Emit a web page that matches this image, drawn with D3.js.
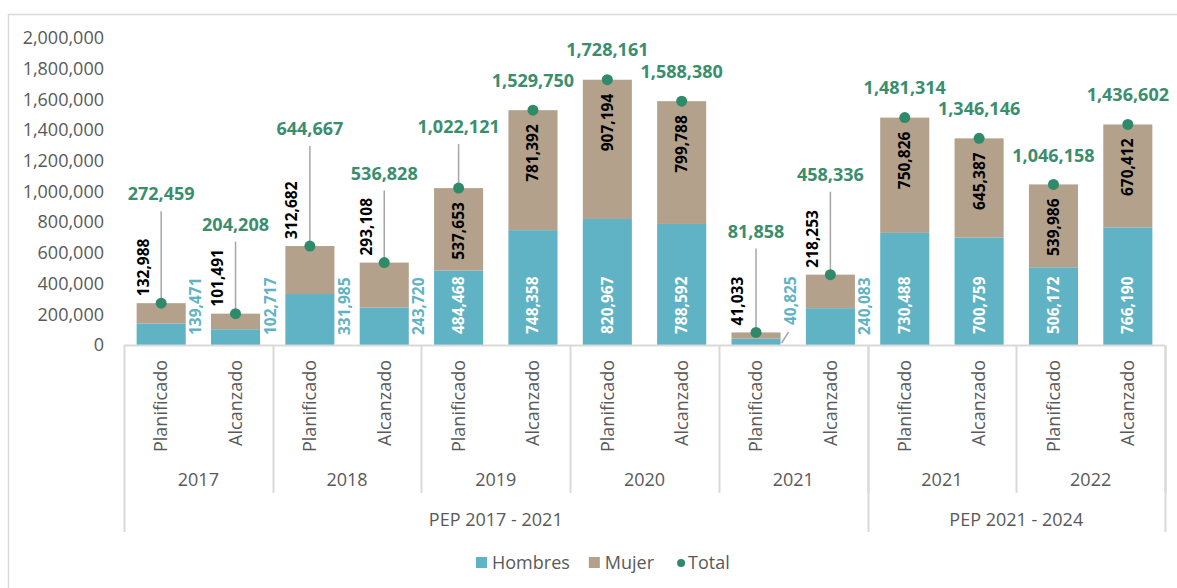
<!DOCTYPE html>
<html>
<head>
<meta charset="utf-8">
<script src="https://cdn.jsdelivr.net/npm/d3@7"></script>
<style>
  body { margin: 0; background: #fff; }
  svg { display: block; font-family: "Open Sans", sans-serif; }
</style>
</head>
<body>
<svg id="viz"></svg>
<script>
// ----------------------------------------------------------------------------------------------------------------
// DATA

var periods = ["PEP 2017 - 2021", "PEP 2017 - 2021", "PEP 2017 - 2021", "PEP 2017 - 2021", "PEP 2017 - 2021",
  "PEP 2017 - 2021", "PEP 2017 - 2021", "PEP 2017 - 2021", "PEP 2017 - 2021", "PEP 2017 - 2021",
  "PEP 2021 - 2024", "PEP 2021 - 2024", "PEP 2021 - 2024", "PEP 2021 - 2024"];

var years = ["2017", "2017", "2018", "2018", "2019", "2019", "2020", "2020", "2021", "2021",
  "2021", "2021", "2022", "2022"];

var stages = ["Planificado", "Alcanzado", "Planificado", "Alcanzado", "Planificado", "Alcanzado", "Planificado",
  "Alcanzado", "Planificado", "Alcanzado", "Planificado", "Alcanzado", "Planificado", "Alcanzado"];

var hombres = [139471, 102717, 331985, 243720, 484468, 748358, 820967, 788592, 40825, 240083,
  730488, 700759, 506172, 766190];

var mujer = [132988, 101491, 312682, 293108, 537653, 781392, 907194, 799788, 41033, 218253,
  750826, 645387, 539986, 670412];

var total = [272459, 204208, 644667, 536828, 1022121, 1529750, 1728161, 1588380, 81858, 458336,
  1481314, 1346146, 1046158, 1436602];

var yTicks = [0, 200000, 400000, 600000, 800000, 1000000, 1200000, 1400000, 1600000, 1800000, 2000000];

var legendNames = ["Hombres", "Mujer", "Total"];

// ----------------------------------------------------------------------------------------------------------------
// LAYOUT (how far each total label sits above its dot, px)

var totalLift = [109, 89, 117, 89, 61, 29, 30, 29, 101, 100, 30, 30, 29, 30];

// ----------------------------------------------------------------------------------------------------------------
// INITIAL SETUP

var w = 1177;
var h = 588;
var viz = d3.select("#viz").attr("width", w).attr("height", h);

var colHombres = "#5fb3c4";
var colMujer = "#b3a18c";
var colTotal = "#2f8a69";
var colTotalText = "#3a8e6e";
var colAxis = "#d9d9d9";
var colText = "#595959";

var fmt = d3.format(",");

// outer chart frame
viz.append("rect")
  .attr("x", 8.5).attr("y", 14.5)
  .attr("width", 1300).attr("height", 700)
  .attr("fill", "none")
  .attr("stroke", colAxis)
  .attr("stroke-width", 1.5);

var x = d3.scaleBand()
  .domain(d3.range(stages.length))
  .range([124, 1165])
  .paddingInner(0.34)
  .paddingOuter(0.17);

var y = d3.scaleLinear()
  .domain([0, 2000000])
  .range([345, 38]);

var step = x.step();
var gap = (step - x.bandwidth()) / 2;

// ----------------------------------------------------------------------------------------------------------------
// Y AXIS (labels only)

var yAxis = viz.append("g")
  .attr("transform", "translate(124,0)")
  .call(d3.axisLeft(y).tickValues(yTicks).tickSize(0).tickPadding(20).tickFormat(fmt));

yAxis.select(".domain").remove();
yAxis.selectAll("text")
  .attr("fill", colText)
  .style("font-size", "18px")
  .style("font-family", "Open Sans");

// ----------------------------------------------------------------------------------------------------------------
// BARS

var cats = d3.range(stages.length);

viz.selectAll("rect.hombres")
  .data(cats)
  .enter()
  .append("rect")
  .attr("class", "hombres")
  .attr("x", function(i) { return x(i); })
  .attr("width", x.bandwidth())
  .attr("y", function(i) { return y(hombres[i]); })
  .attr("height", function(i) { return y(0) - y(hombres[i]); })
  .attr("fill", colHombres);

viz.selectAll("rect.mujer")
  .data(cats)
  .enter()
  .append("rect")
  .attr("class", "mujer")
  .attr("x", function(i) { return x(i); })
  .attr("width", x.bandwidth())
  .attr("y", function(i) { return y(hombres[i] + mujer[i]); })
  .attr("height", function(i) { return y(hombres[i]) - y(hombres[i] + mujer[i]); })
  .attr("fill", colMujer);

// ----------------------------------------------------------------------------------------------------------------
// CATEGORY AXIS

viz.append("line")
  .attr("x1", 124).attr("x2", 1165)
  .attr("y1", 345.5).attr("y2", 345.5)
  .attr("stroke", colAxis)
  .attr("stroke-width", 2);

var xAxis = viz.append("g")
  .attr("transform", "translate(0,345)")
  .call(d3.axisBottom(x).tickSize(0).tickFormat(function(i) { return stages[i]; }));

xAxis.select(".domain").remove();
xAxis.selectAll("text")
  .attr("transform", "rotate(-90)")
  .attr("x", -15)
  .attr("y", 0)
  .attr("dy", "0.35em")
  .attr("text-anchor", "end")
  .attr("fill", colText)
  .style("font-size", "18px")
  .style("font-family", "Open Sans");

// year groups and period groups
function groups(keyFn) {
  var out = [];
  cats.forEach(function(i) {
    var k = keyFn(i);
    if (out.length && out[out.length - 1].key === k) {
      out[out.length - 1].end = i;
    } else {
      out.push({key: k, start: i, end: i, label: null});
    }
  });
  return out;
}

var yearGroups = groups(function(i) { return periods[i] + "|" + years[i]; });
var periodGroups = groups(function(i) { return periods[i]; });

function leftEdge(i) { return x(i) - gap; }
function rightEdge(i) { return x(i) + x.bandwidth() + gap; }

// separators between years
viz.selectAll("line.yearsep")
  .data(yearGroups)
  .enter()
  .append("line")
  .attr("class", "yearsep")
  .attr("x1", function(d) { return Math.round(rightEdge(d.end)) + 0.5; })
  .attr("x2", function(d) { return Math.round(rightEdge(d.end)) + 0.5; })
  .attr("y1", 345).attr("y2", 493)
  .attr("stroke", colAxis)
  .attr("stroke-width", 2);

// separators between periods (plus the far left)
var periodEdges = [leftEdge(0)].concat(periodGroups.map(function(d) { return rightEdge(d.end); }));

viz.selectAll("line.periodsep")
  .data(periodEdges)
  .enter()
  .append("line")
  .attr("class", "periodsep")
  .attr("x1", function(d) { return Math.round(d) + 0.5; })
  .attr("x2", function(d) { return Math.round(d) + 0.5; })
  .attr("y1", 345).attr("y2", 532)
  .attr("stroke", colAxis)
  .attr("stroke-width", 2);

viz.selectAll("text.year")
  .data(yearGroups)
  .enter()
  .append("text")
  .attr("class", "year")
  .attr("x", function(d) { return (leftEdge(d.start) + rightEdge(d.end)) / 2; })
  .attr("y", 486)
  .attr("text-anchor", "middle")
  .attr("fill", colText)
  .style("font-size", "18px")
  .text(function(d) { return years[d.start]; });

viz.selectAll("text.period")
  .data(periodGroups)
  .enter()
  .append("text")
  .attr("class", "period")
  .attr("x", function(d) { return (leftEdge(d.start) + rightEdge(d.end)) / 2; })
  .attr("y", 526)
  .attr("text-anchor", "middle")
  .attr("fill", colText)
  .style("font-size", "18px")
  .text(function(d) { return d.key; });

// ----------------------------------------------------------------------------------------------------------------
// DATA LABELS

var minInside = 65;

// hombres
viz.selectAll("text.lblH")
  .data(cats)
  .enter()
  .append("text")
  .attr("class", "lblH")
  .attr("transform", function(i) {
    var segH = y(0) - y(hombres[i]);
    if (segH >= minInside) {
      return "translate(" + (x(i) + x.bandwidth() / 2) + "," + (y(0) - 11) + ") rotate(-90)";
    }
    var lift = segH < 15 ? 20 : 10;
    return "translate(" + (x(i) + x.bandwidth() + 10) + "," + (y(0) - lift) + ") rotate(-90)";
  })
  .attr("dy", "0.35em")
  .attr("text-anchor", "start")
  .attr("fill", function(i) { return (y(0) - y(hombres[i])) >= minInside ? "#fff" : colHombres; })
  .style("font-size", "15.5px")
  .style("font-weight", "bold")
  .text(function(i) { return fmt(hombres[i]); });

// tiny leader for very short segments
viz.selectAll("line.leadH")
  .data(cats.filter(function(i) { return (y(0) - y(hombres[i])) < 15; }))
  .enter()
  .append("line")
  .attr("class", "leadH")
  .attr("x1", function(i) { return x(i) + x.bandwidth() + 1; })
  .attr("y1", function(i) { return y(0) - 2; })
  .attr("x2", function(i) { return x(i) + x.bandwidth() + 8; })
  .attr("y2", function(i) { return y(0) - 13; })
  .attr("stroke", "#a6a6a6")
  .attr("stroke-width", 1.5);

// mujer
viz.selectAll("text.lblM")
  .data(cats)
  .enter()
  .append("text")
  .attr("class", "lblM")
  .attr("transform", function(i) {
    var top = y(hombres[i] + mujer[i]);
    var segH = y(hombres[i]) - top;
    if (segH >= minInside) {
      return "translate(" + (x(i) + x.bandwidth() / 2) + "," + (top + 14) + ") rotate(-90)";
    }
    return "translate(" + (x(i) + x.bandwidth() / 2 - 18) + "," + (top - 7) + ") rotate(-90)";
  })
  .attr("dy", "0.35em")
  .attr("text-anchor", function(i) {
    return (y(hombres[i]) - y(hombres[i] + mujer[i])) >= minInside ? "end" : "start";
  })
  .attr("fill", "#000")
  .style("font-size", "15.5px")
  .style("font-weight", "bold")
  .text(function(i) { return fmt(mujer[i]); });

// total: leader lines, dots, labels
viz.selectAll("line.leadT")
  .data(cats.filter(function(i) { return totalLift[i] > 45; }))
  .enter()
  .append("line")
  .attr("class", "leadT")
  .attr("x1", function(i) { return x(i) + x.bandwidth() / 2; })
  .attr("x2", function(i) { return x(i) + x.bandwidth() / 2; })
  .attr("y1", function(i) { return y(total[i]) - totalLift[i] + 17; })
  .attr("y2", function(i) { return y(total[i]); })
  .attr("stroke", "#a6a6a6")
  .attr("stroke-width", 1.5);

viz.selectAll("circle.dot")
  .data(cats)
  .enter()
  .append("circle")
  .attr("class", "dot")
  .attr("cx", function(i) { return x(i) + x.bandwidth() / 2; })
  .attr("cy", function(i) { return y(total[i]); })
  .attr("r", 5.5)
  .attr("fill", colTotal);

viz.selectAll("text.lblT")
  .data(cats)
  .enter()
  .append("text")
  .attr("class", "lblT")
  .attr("x", function(i) { return x(i) + x.bandwidth() / 2; })
  .attr("y", function(i) { return y(total[i]) - totalLift[i]; })
  .attr("dy", "0.35em")
  .attr("text-anchor", "middle")
  .attr("fill", colTotalText)
  .style("font-size", "18px")
  .style("font-weight", "bold")
  .text(function(i) { return fmt(total[i]); });

// ----------------------------------------------------------------------------------------------------------------
// LEGEND

var legend = viz.append("g").attr("transform", "translate(476,563)");
var lx = 0;
legendNames.forEach(function(name, k) {
  if (k < 2) {
    legend.append("rect")
      .attr("x", lx).attr("y", -6)
      .attr("width", 11).attr("height", 11)
      .attr("fill", k === 0 ? colHombres : colMujer);
  } else {
    legend.append("circle")
      .attr("cx", lx + 6).attr("cy", 0)
      .attr("r", 4)
      .attr("fill", colTotal);
  }
  var t = legend.append("text")
    .attr("x", lx + (k < 2 ? 16 : 13))
    .attr("y", 0)
    .attr("dy", "0.35em")
    .attr("fill", colText)
    .style("font-size", "18px")
    .text(name);
  lx += (k < 2 ? 16 : 13) + t.node().getComputedTextLength() + (k === 0 ? 19 : 21);
});
</script>
</body>
</html>
